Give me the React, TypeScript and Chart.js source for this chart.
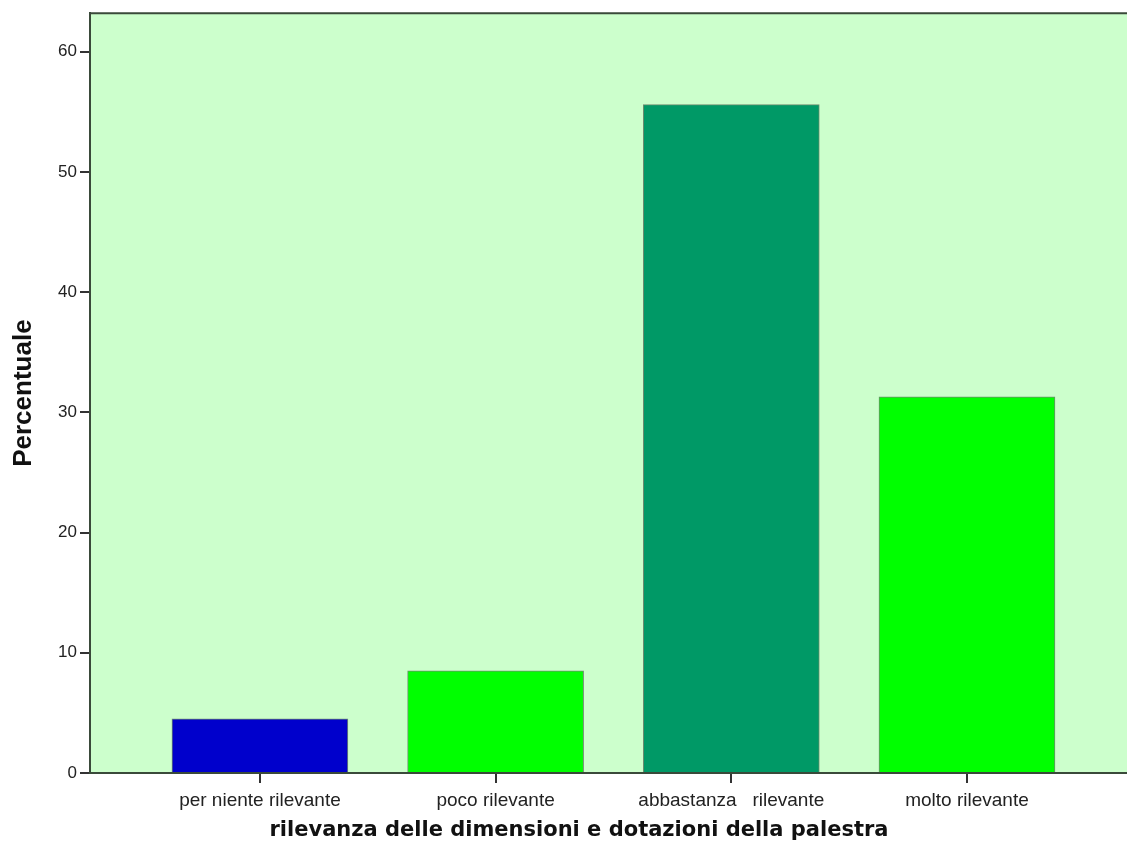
import React, { useEffect, useRef } from "react";
import { Chart, registerables } from "chart.js";

Chart.register(...registerables);

const categories = ["per niente rilevante", "poco rilevante", "abbastanza   rilevante", "molto rilevante"];
const percentages = [4.5, 8.5, 55.6, 31.3];
const barColors = ["#0000cc", "#00ff00", "#009966", "#00ff00"];
const yTicks = [0, 10, 20, 30, 40, 50, 60];
const yTitle = "Percentuale";
const xTitle = "rilevanza delle dimensioni e dotazioni della palestra";

const AXIS_COLOR = "#3a4a3a";

const framePlugin = {
  id: "frame",
  beforeDraw(chart: any) {
    const { ctx, chartArea } = chart;
    ctx.save();
    ctx.fillStyle = "#ccffcc";
    ctx.fillRect(chartArea.left, chartArea.top, chartArea.right - chartArea.left, chartArea.bottom - chartArea.top);
    ctx.restore();
  },
  afterDraw(chart: any) {
    const { ctx, chartArea } = chart;
    ctx.save();
    ctx.strokeStyle = AXIS_COLOR;
    ctx.lineWidth = 2;
    ctx.beginPath();
    ctx.moveTo(chartArea.left, chartArea.top);
    ctx.lineTo(chartArea.right, chartArea.top);
    ctx.stroke();
    ctx.fillStyle = "#111";
    ctx.font = "bold 21px 'DejaVu Sans'";
    ctx.textAlign = "center";
    ctx.textBaseline = "middle";
    ctx.fillText(xTitle, 579, 831);
    ctx.restore();
  },
};

export default function App() {
  const ref = useRef<HTMLCanvasElement>(null);
  useEffect(() => {
    if (!ref.current) return;
    const chart = new Chart(ref.current, {
      type: "bar",
      data: {
        datasets: [
          {
            data: percentages.map((v, i) => ({ x: i, y: v })),
            backgroundColor: barColors,
            borderColor: "#6f8a6f",
            borderWidth: 1,
            barThickness: 176,
          } as any,
        ],
      },
      options: {
        animation: false,
        responsive: false,
        maintainAspectRatio: false,
        layout: { padding: { left: 0, right: 0, top: 12, bottom: 0 } },
        plugins: { legend: { display: false }, tooltip: { enabled: false }, title: { display: false } },
        scales: {
          x: {
            type: "linear",
            offset: false,
            min: -0.721,
            max: 3.679,
            afterBuildTicks: (scale: any) => {
              scale.ticks = categories.map((_, i) => ({ value: i }));
            },
            afterFit: (scale: any) => {
              scale.height = 83;
            },
            ticks: {
              autoSkip: false,
              maxRotation: 0,
              padding: 6,
              color: "#222",
              font: { family: "'Liberation Sans', Arial", size: 19 },
              callback: (v: any) => categories[Math.round(Number(v))] ?? "",
            },
            grid: { display: true, offset: false, drawOnChartArea: false, drawTicks: true, tickLength: 10, color: "#333", lineWidth: 2 },
            border: { display: true, color: AXIS_COLOR, width: 2 },
          },
          y: {
            min: 0,
            max: 63.2,
            afterBuildTicks: (scale: any) => {
              scale.ticks = yTicks.map((v) => ({ value: v }));
            },
            afterFit: (scale: any) => {
              scale.width = 90;
            },
            ticks: {
              padding: 3,
              color: "#222",
              font: { family: "'Liberation Sans', Arial", size: 17 },
            },
            grid: { display: true, drawOnChartArea: false, drawTicks: true, tickLength: 10, color: "#333", lineWidth: 2 },
            border: { display: true, color: AXIS_COLOR, width: 2 },
            title: {
              display: true,
              text: yTitle,
              color: "#111",
              font: { family: "'Liberation Sans', Arial", size: 26, weight: "bold" },
              padding: { top: 8, bottom: 0 },
            },
          },
        },
      },
      plugins: [framePlugin],
    });
    return () => chart.destroy();
  }, []);
  return (
    <div style={{ position: "absolute", left: 0, top: 0, width: 1127, height: 856, background: "#fff" }}>
      <canvas ref={ref} width={1127} height={856} style={{ display: "block", width: 1127, height: 856 }} />
    </div>
  );
}
